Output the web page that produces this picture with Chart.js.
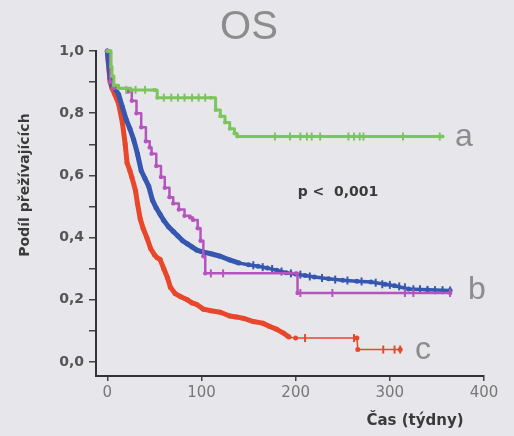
<!DOCTYPE html>
<html><head><meta charset="utf-8">
<script src="https://cdn.jsdelivr.net/npm/chart.js@4/dist/chart.umd.min.js"></script>
<style>
html,body{margin:0;padding:0;background:#e7e7eb;}
#wrap{width:514px;height:436px;}
</style></head>
<body><div id="wrap"><canvas id="c" width="514" height="436"></canvas></div>
<script>
// ---- data (time in weeks, survival fraction) ----
const xTicks = [0, 100, 200, 300, 400];
const yTicks = [0, 0.1, 0.2, 0.3, 0.4, 0.5, 0.6, 0.7, 0.8, 0.9, 1.0];

const aTime = [0, 3, 4, 5, 7, 12, 25, 50, 53, 110, 115, 120, 125, 130, 135, 138, 356];
const aSurv = [1.0, 1.0, 0.95, 0.92, 0.89, 0.88, 0.875, 0.875, 0.85, 0.85, 0.81, 0.79, 0.77, 0.75, 0.735, 0.725, 0.725];
const aCensTime = [20, 30, 40, 60, 68, 75, 82, 90, 97, 104, 178, 194, 205, 212, 217, 226, 256, 262, 268, 272, 314, 353];
const aCensSurv = [0.875, 0.875, 0.875, 0.85, 0.85, 0.85, 0.85, 0.85, 0.85, 0.85, 0.725, 0.725, 0.725, 0.725, 0.725, 0.725, 0.725, 0.725, 0.725, 0.725, 0.725, 0.725];

const bTime = [0, 3, 5, 8, 12, 16, 20, 24, 28, 32, 36, 40, 44, 48, 52, 56, 60, 65, 70, 75, 80, 85, 90, 95, 100, 110, 120, 130, 140, 150, 160, 170, 180, 190, 200, 210, 220, 235, 250, 265, 280, 295, 305, 320, 340, 364];
const bSurv = [1.0, 0.91, 0.89, 0.88, 0.86, 0.82, 0.78, 0.75, 0.715, 0.67, 0.615, 0.59, 0.565, 0.52, 0.495, 0.475, 0.455, 0.435, 0.42, 0.405, 0.39, 0.38, 0.37, 0.36, 0.355, 0.348, 0.34, 0.328, 0.318, 0.313, 0.308, 0.302, 0.295, 0.287, 0.283, 0.278, 0.273, 0.268, 0.263, 0.26, 0.257, 0.25, 0.245, 0.235, 0.232, 0.23];
const bCensTime = [155, 165, 175, 185, 195, 205, 215, 228, 242, 255, 270, 285, 292, 300, 310, 316, 325, 332, 340, 348, 356, 364];
const bCensSurv = [0.311, 0.305, 0.299, 0.291, 0.285, 0.281, 0.275, 0.27, 0.265, 0.262, 0.259, 0.255, 0.25, 0.248, 0.243, 0.24, 0.234, 0.234, 0.232, 0.231, 0.231, 0.23];

const pTime = [0, 3, 6, 22, 26, 31, 36, 41, 45, 47, 52, 57, 61, 66, 70, 76, 82, 88, 91, 96, 99, 102, 104, 201, 202, 364];
const pSurv = [1.0, 0.9, 0.88, 0.87, 0.84, 0.80, 0.755, 0.71, 0.69, 0.67, 0.63, 0.595, 0.56, 0.53, 0.51, 0.49, 0.47, 0.465, 0.457, 0.43, 0.39, 0.34, 0.285, 0.285, 0.222, 0.222];
const pCensTime = [110, 123, 205, 239, 316, 325, 364];
const pCensSurv = [0.285, 0.285, 0.222, 0.222, 0.222, 0.222, 0.222];

const cTime = [0, 3, 5, 8, 12, 16, 19, 21, 24, 26, 30, 32, 35, 38, 42, 46, 50, 53, 56, 60, 64, 67, 72, 78, 85, 90, 95, 102, 110, 120, 130, 137, 145, 155, 165, 172, 180, 187, 193, 200, 265, 266, 311];
const cSurv = [1.0, 0.9, 0.88, 0.86, 0.83, 0.77, 0.70, 0.64, 0.615, 0.595, 0.55, 0.51, 0.46, 0.43, 0.40, 0.365, 0.345, 0.335, 0.33, 0.30, 0.27, 0.24, 0.22, 0.21, 0.20, 0.19, 0.185, 0.17, 0.165, 0.16, 0.148, 0.145, 0.14, 0.13, 0.125, 0.115, 0.105, 0.093, 0.08, 0.077, 0.077, 0.04, 0.04];
const cCensTime = [210, 262, 293, 305, 311];
const cCensSurv = [0.077, 0.077, 0.04, 0.04, 0.04];

const groupLabels = ['a', 'b', 'c'];
const pText = 'p <  0,001';
const titleText = 'OS';
const xTitle = 'Čas (týdny)';
const yTitle = 'Podíl přežívajících';

const GREEN = '#7cc45c', BLUE = '#3557b0', PURPLE = '#b455bd', RED = '#e8472b';

function pts(t, s){ return t.map((v,i)=>({x:v, y:s[i]})); }

function curve(t, s, color, thick, thin, limit, r, stepped){
  return {
    type:'line', data: pts(t,s), borderColor: color, backgroundColor: color,
    stepped: stepped ? 'before' : false, tension:0, borderWidth: thick, pointRadius: r, pointHoverRadius: r,
    pointBorderWidth: 0, clip:false, borderJoinStyle:'round',
    segment:{ borderWidth: ctx => (ctx.p0.parsed.x < limit ? thick : thin) }
  };
}
function cens(t, s, color){
  return {
    type:'scatter', data: pts(t,s), borderColor: color, backgroundColor: color,
    showLine:false, pointStyle:'line', rotation:90, pointRadius:4, borderWidth:2, clip:false
  };
}

const textPlugin = {
  id:'texts',
  afterDraw(chart){
    const ctx = chart.ctx;
    ctx.save();
    ctx.textBaseline = 'middle';
    ctx.fillStyle = '#8c8c8c';
    ctx.font = '40px "Liberation Sans", Arial, sans-serif';
    ctx.textAlign = 'center';
    ctx.fillText(titleText, 249, 28);
    ctx.font = '32px "Liberation Sans", Arial, sans-serif';
    ctx.textAlign = 'left';
    ctx.fillText(groupLabels[0], 455, 137);
    ctx.fillText(groupLabels[1], 468, 290);
    ctx.fillText(groupLabels[2], 415, 350);
    ctx.fillStyle = '#3a3a3a';
    ctx.font = 'bold 14px "DejaVu Sans", sans-serif';
    ctx.textAlign = 'center';
    ctx.fillText(pText, 338, 192);
    ctx.font = 'bold 15px "DejaVu Sans", sans-serif';
    ctx.fillText(xTitle, 415, 421);
    ctx.translate(25, 185);
    ctx.rotate(-Math.PI/2);
    ctx.font = 'bold 14px "DejaVu Sans", sans-serif';
    ctx.fillText(yTitle, 0, 0);
    ctx.restore();
  }
};

new Chart(document.getElementById('c'), {
  data:{ datasets:[
    curve(aTime, aSurv, GREEN, 3, 3, 999, 2, true),
    cens(aCensTime, aCensSurv, GREEN),
    curve(pTime, pSurv, PURPLE, 2.5, 2, 999, 2.2, true),
    cens(pCensTime, pCensSurv, PURPLE),
    curve(bTime, bSurv, BLUE, 5, 3.5, 140, 2.5, false),
    cens(bCensTime, bCensSurv, BLUE),
    curve(cTime, cSurv, RED, 5, 1.5, 193, 2.5, false),
    cens(cCensTime, cCensSurv, RED)
  ]},
  options:{
    responsive:false, animation:false,
    layout:{ padding:{ left:0, right:30, top:51, bottom:0 } },
    plugins:{ legend:{display:false}, tooltip:{enabled:false}, title:{display:false} },
    scales:{
      x:{
        type:'linear', min:-12, max:400,
        afterBuildTicks: s => { s.ticks = xTicks.map(v=>({value:v})); },
        afterFit: s => { s.height = 60; },
        grid:{ display:true, drawOnChartArea:false, drawTicks:true, tickLength:5, color:'#444', lineWidth:1.5 },
        border:{ display:true, color:'#333', width:2 },
        ticks:{ color:'#777', font:{ family:'"DejaVu Sans", sans-serif', size:15 }, padding:3,
          callback: v => String(v) }
      },
      y:{
        type:'linear', min:-0.045, max:1.0,
        afterBuildTicks: s => { s.ticks = yTicks.map(v=>({value:v})); },
        afterFit: s => { s.width = 96; },
        grid:{ display:true, drawOnChartArea:false, drawTicks:true, tickLength:7, color:'#444', lineWidth:1.5 },
        border:{ display:true, color:'#333', width:2 },
        ticks:{ color:'#555', font:{ family:'"DejaVu Sans", sans-serif', size:14, weight:'bold' }, padding:5,
          callback: v => (Math.round(v*10) % 2 === 0 ? v.toFixed(1).replace('.', ',') : '') }
      }
    }
  },
  plugins:[textPlugin]
});
</script>
</body></html>
